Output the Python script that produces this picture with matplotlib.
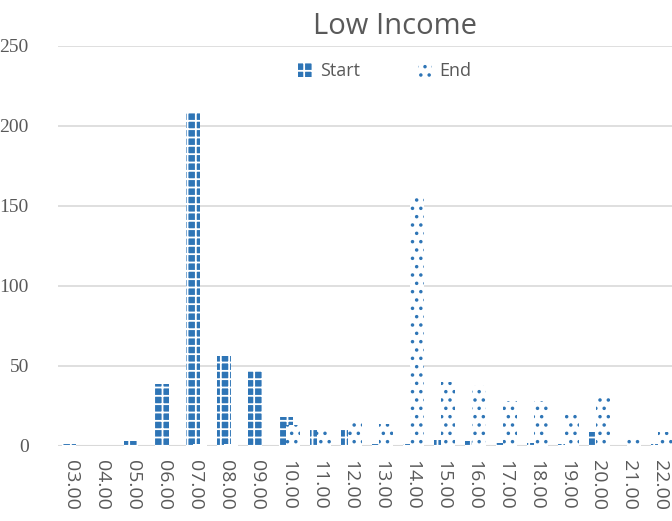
import matplotlib
matplotlib.use("Agg")
import matplotlib.pyplot as plt
import numpy as np
from matplotlib.patches import Patch

categories = ["03.00", "04.00", "05.00", "06.00", "07.00", "08.00", "09.00", "10.00",
              "11.00", "12.00", "13.00", "14.00", "15.00", "16.00", "17.00", "18.00",
              "19.00", "20.00", "21.00", "22.00"]
start_vals = [1, 0, 3, 39, 208, 56, 47, 18, 10, 10, 1, 1, 4, 3, 2, 2, 1, 9, 0, 1]
end_vals = [0, 0, 0, 0, 1, 1, 0, 13, 12, 17, 14, 155, 40, 38, 28, 28, 20, 30, 5, 9]
y_ticks = [0, 50, 100, 150, 200, 250]

blue = "#2E75B6"
grey = "#595959"

plt.rcParams['hatch.linewidth'] = 1.3

fig = plt.figure(figsize=(6.72, 5.21), dpi=100)
ax = fig.add_axes([58/672, (521-446)/521, 1 - 58/672, 400/521])

x = np.arange(len(categories))
w = 0.45
ax.bar(x - 0.05, start_vals, width=w, facecolor=blue, edgecolor="white",
       hatch="++", linewidth=0, zorder=2)
ax.bar(x + 0.17, end_vals, width=w, facecolor="white", edgecolor=blue,
       hatch="..", linewidth=0, zorder=3)

ax.set_xlim(-0.42, 19.39)
ax.set_ylim(0, 250)
ax.set_yticks(y_ticks)
ax.set_yticklabels([str(v) for v in y_ticks], fontfamily="Liberation Serif",
                   fontsize=14, color=grey)
ax.set_xticks(x)
ax.set_xticklabels(categories, rotation=270, fontfamily="Open Sans",
                   fontsize=14, color=grey)
ax.tick_params(axis="both", length=0)
ax.tick_params(axis="y", pad=21)
ax.tick_params(axis="x", pad=10)
for s in ax.spines.values():
    s.set_visible(False)
ax.grid(axis="y", color="#D9D9D9", linewidth=1.2, zorder=0)
ax.set_axisbelow(True)
ax.axhline(0, color="#D9D9D9", linewidth=1.5, zorder=1)

fig.text(395/672, 1 - 26/521, "Low Income", ha="center", va="center",
         fontsize=21, color=grey, fontfamily="Open Sans")

handles = [Patch(facecolor=blue, edgecolor="white", hatch="++", linewidth=0, label="Start"),
           Patch(facecolor="white", edgecolor=blue, hatch="..", linewidth=0, label="End")]
leg = fig.legend(handles=handles, loc="center", bbox_to_anchor=(385/672, 1 - 71/521),
                 ncol=2, frameon=False, fontsize=13, handlelength=0.8, handleheight=0.8,
                 columnspacing=3.2, handletextpad=0.4)
for t in leg.get_texts():
    t.set_color(grey)
    t.set_fontfamily("Open Sans")

fig.savefig("out.png", dpi=100)
